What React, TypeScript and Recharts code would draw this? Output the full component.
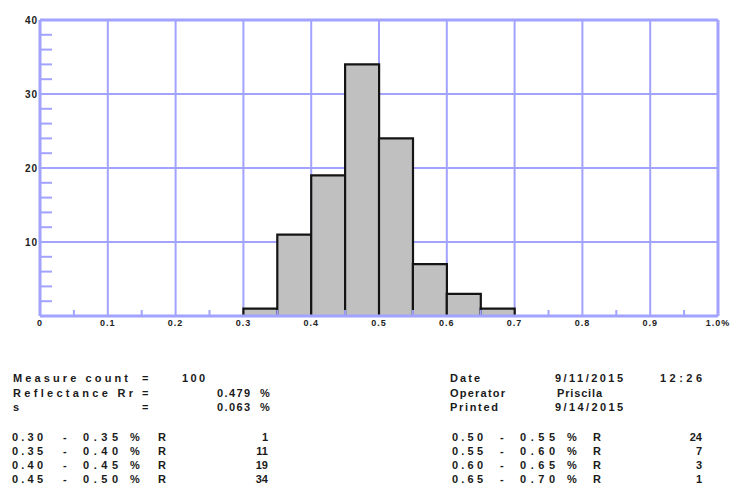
import React from 'react';
import { ComposedChart, Bar, XAxis, YAxis, CartesianGrid, ReferenceLine } from 'recharts';

// ---- data ----
const binStart = [0.3, 0.35, 0.4, 0.45, 0.5, 0.55, 0.6, 0.65];
const binEnd = [0.35, 0.4, 0.45, 0.5, 0.55, 0.6, 0.65, 0.7];
const counts = [1, 11, 19, 34, 24, 7, 3, 1];

const xTicks = [0, 0.1, 0.2, 0.3, 0.4, 0.5, 0.6, 0.7, 0.8, 0.9, 1.0];
const xTickLabels = ['0', '0.1', '0.2', '0.3', '0.4', '0.5', '0.6', '0.7', '0.8', '0.9', '1.0%'];
const xMinorTicks = [0.05, 0.15, 0.25, 0.35, 0.45, 0.55, 0.65, 0.75, 0.85, 0.95];
const yTicks = [10, 20, 30, 40];
const yMinorTicks = [2, 4, 6, 8, 12, 14, 16, 18, 22, 24, 26, 28, 32, 34, 36, 38];

const measureCount = 100;
const reflectance = '0.479';
const stdDev = '0.063';
const dateText = '9/11/2015';
const timeText = '12:26';
const operatorText = 'Priscila';
const printedText = '9/14/2015';

// ---- layout ----
const W = 734;
const CH = 345;
const MARGIN = { top: 20, right: 16, bottom: 9, left: 0 };
const YAXIS_W = 40;
const X_DOMAIN: [number, number] = [0, 1];
const Y_DOMAIN: [number, number] = [0, 40];

const BLUE = '#a2a2ff';
const FONT = '"Liberation Sans", Arial, sans-serif';

const data = binStart.map((s, i) => ({ mid: (s + binEnd[i]) / 2, count: counts[i] }));

const XTick = (props: any) => {
  const { x, y, payload } = props;
  const idx = xTicks.indexOf(payload.value);
  const label = idx >= 0 ? xTickLabels[idx] : String(payload.value);
  return (
    <text x={x} y={y} dy="0.71em" textAnchor="middle" fontFamily={FONT} fontSize={9} fontWeight="bold" letterSpacing={1} fill="#222">
      {label}
    </text>
  );
};

const YTick = (props: any) => {
  const { x, y, payload } = props;
  return (
    <text x={x} y={y} dy="0.355em" textAnchor="end" fontFamily={FONT} fontSize={10} fontWeight="bold" letterSpacing={1} fill="#222">
      {payload.value}
    </text>
  );
};

const NoTick = () => <g />;

const T = ({ x, y, w, anchor, children }: any) => (
  <text
    x={x}
    y={y}
    dominantBaseline="central"
    textAnchor={anchor || 'start'}
    fontFamily={FONT}
    fontSize={11}
    fontWeight="bold"
    fill="#1a1a1a"
    textLength={w}
    lengthAdjust={w ? 'spacing' : undefined}
  >
    {children}
  </text>
);

const rowY = [437, 451, 465, 479];

export default function App() {
  const leftRows = [0, 1, 2, 3];
  const rightRows = [4, 5, 6, 7];
  return (
    <div style={{ position: 'absolute', left: 0, top: 0, width: W, height: 487, background: '#fff' }}>
      <ComposedChart width={W} height={CH} data={data} margin={MARGIN} barCategoryGap={0} barGap={0}>
        <CartesianGrid stroke={BLUE} strokeWidth={2} />
        <XAxis
          type="number"
          dataKey="mid"
          domain={X_DOMAIN}
          allowDataOverflow
          ticks={xTicks}
          interval={0}
          height={20}
          tickLine={false}
          tickSize={0}
          tickMargin={4}
          axisLine={{ stroke: BLUE, strokeWidth: 3 }}
          tick={<XTick />}
        />
        <XAxis
          xAxisId="minor"
          type="number"
          dataKey="mid"
          domain={X_DOMAIN}
          allowDataOverflow
          ticks={xMinorTicks}
          interval={0}
          mirror
          height={20}
          axisLine={false}
          tickLine={{ stroke: BLUE, strokeWidth: 2 }}
          tickSize={6}
          tick={NoTick}
        />
        <YAxis
          type="number"
          domain={Y_DOMAIN}
          allowDataOverflow
          ticks={yTicks}
          interval={0}
          width={YAXIS_W}
          tickLine={false}
          tickSize={0}
          tickMargin={2}
          axisLine={{ stroke: BLUE, strokeWidth: 3 }}
          tick={<YTick />}
        />
        <YAxis
          yAxisId="minor"
          type="number"
          dataKey="count"
          domain={Y_DOMAIN}
          allowDataOverflow
          ticks={yMinorTicks}
          interval={0}
          mirror
          width={YAXIS_W}
          axisLine={false}
          tickLine={{ stroke: BLUE, strokeWidth: 2 }}
          tickSize={12}
          tick={NoTick}
        />
        <ReferenceLine y={Y_DOMAIN[1]} stroke={BLUE} strokeWidth={3} />
        <ReferenceLine x={X_DOMAIN[1]} stroke={BLUE} strokeWidth={3} />
        <Bar dataKey="count" fill="#c0c0c0" stroke="#141414" strokeWidth={2.2} isAnimationActive={false} />
      </ComposedChart>
      <svg width={W} height={487} style={{ position: 'absolute', left: 0, top: 0, pointerEvents: 'none' }}>
        <T x={13} y={378} w={115}>Measure count</T>
        <T x={142} y={378}>=</T>
        <T x={182} y={378} w={23}>{measureCount}</T>
        <T x={13} y={393} w={120}>Reflectance Rr</T>
        <T x={142} y={393}>=</T>
        <T x={217} y={393} w={33}>{reflectance}</T>
        <T x={260} y={393}>%</T>
        <T x={13} y={407}>s</T>
        <T x={142} y={407}>=</T>
        <T x={217} y={407} w={33}>{stdDev}</T>
        <T x={260} y={407}>%</T>

        <T x={450} y={378} w={30}>Date</T>
        <T x={555} y={378} w={68}>{dateText}</T>
        <T x={660} y={378} w={42}>{timeText}</T>
        <T x={450} y={393} w={55}>Operator</T>
        <T x={557} y={393} w={45}>{operatorText}</T>
        <T x={450} y={407} w={48}>Printed</T>
        <T x={555} y={407} w={68}>{printedText}</T>

        {leftRows.map((i, r) => (
          <g key={'l' + i}>
            <T x={12} y={rowY[r]} w={31}>{binStart[i].toFixed(2)}</T>
            <T x={63} y={rowY[r]}>-</T>
            <T x={83} y={rowY[r]} w={35}>{binEnd[i].toFixed(2)}</T>
            <T x={130} y={rowY[r]}>%</T>
            <T x={158} y={rowY[r]}>R</T>
            <T x={268} y={rowY[r]} anchor="end">{counts[i]}</T>
          </g>
        ))}
        {rightRows.map((i, r) => (
          <g key={'r' + i}>
            <T x={452} y={rowY[r]} w={31}>{binStart[i].toFixed(2)}</T>
            <T x={500} y={rowY[r]}>-</T>
            <T x={520} y={rowY[r]} w={35}>{binEnd[i].toFixed(2)}</T>
            <T x={567} y={rowY[r]}>%</T>
            <T x={593} y={rowY[r]}>R</T>
            <T x={702} y={rowY[r]} anchor="end">{counts[i]}</T>
          </g>
        ))}
      </svg>
    </div>
  );
}
